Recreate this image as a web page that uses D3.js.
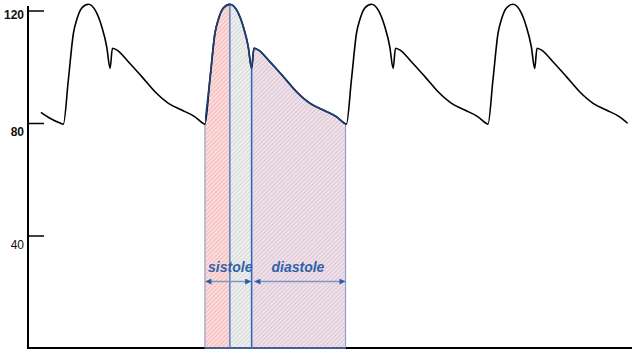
<!DOCTYPE html>
<html>
<head>
<meta charset="utf-8">
<script src="https://cdn.jsdelivr.net/npm/d3@7"></script>
<style>
  html, body { margin: 0; padding: 0; background: #fff; }
  svg { display: block; }
</style>
</head>
<body>
<svg id="chart" width="640" height="356"></svg>
<script>
// ---- Data (time in seconds, pressure in mmHg) ----
const timeSec = [
  0.073, 0.124, 0.181,
  0.200, 0.228, 0.257, 0.275, 0.303, 0.341, 0.379, 0.417, 0.445, 0.464, 0.477, 0.501, 0.567, 0.643, 0.718, 0.794, 0.869, 0.944, 0.989,
  1.000, 1.028, 1.057, 1.075, 1.103, 1.141, 1.179, 1.217, 1.245, 1.264, 1.277, 1.301, 1.367, 1.443, 1.518, 1.594, 1.669, 1.744, 1.789,
  1.800, 1.828, 1.857, 1.875, 1.903, 1.941, 1.979, 2.017, 2.045, 2.064, 2.077, 2.101, 2.167, 2.243, 2.318, 2.394, 2.469, 2.544, 2.589,
  2.600, 2.628, 2.657, 2.675, 2.703, 2.741, 2.779, 2.817, 2.845, 2.864, 2.877, 2.901, 2.967, 3.043, 3.118, 3.194, 3.269, 3.344, 3.389
];
const pressureMmHg = [
  83.8, 81.7, 80.0,
  79.6, 95.3, 112.0, 116.6, 120.8, 122.2, 120.2, 114.2, 107.1, 99.4, 106.6, 106.0, 101.8, 96.5, 91.1, 87.0, 84.6, 82.2, 79.9,
  79.6, 95.3, 112.0, 116.6, 120.8, 122.2, 120.2, 114.2, 107.1, 99.4, 106.6, 106.0, 101.8, 96.5, 91.1, 87.0, 84.6, 82.2, 79.9,
  79.6, 95.3, 112.0, 116.6, 120.8, 122.2, 120.2, 114.2, 107.1, 99.4, 106.6, 106.0, 101.8, 96.5, 91.1, 87.0, 84.6, 82.2, 79.9,
  79.6, 95.3, 112.0, 116.6, 120.8, 122.2, 120.2, 114.2, 107.1, 99.4, 106.6, 106.0, 101.8, 96.5, 91.1, 87.0, 84.6, 82.2, 79.9
];
const yTickValues = [40, 80, 120];
// highlighted beat: start (foot), systolic peak, dicrotic notch, end (next foot)
const beatMarks = [1.000, 1.141, 1.264, 1.800];
const phaseLabels = ["sistole", "diastole"];
const phaseStart = [1.000, 1.277];
const phaseEnd = [1.264, 1.797];

const data = timeSec.map((t, i) => ({ t, p: pressureMmHg[i] }));

const svg = d3.select("#chart");
const x = d3.scaleLinear().domain([0, 3.414]).range([28, 632]);
const y = d3.scaleLinear().domain([0, 120]).range([348, 10.5]);

// ---- Patterns ----
const defs = svg.append("defs");
function hatch(id, bg, fg) {
  const p = defs.append("pattern")
    .attr("id", id).attr("patternUnits", "userSpaceOnUse")
    .attr("width", 3).attr("height", 3)
    .attr("patternTransform", "rotate(45)");
  p.append("rect").attr("width", 3).attr("height", 3).attr("fill", bg);
  p.append("line").attr("x1", 0.5).attr("y1", 0).attr("x2", 0.5).attr("y2", 3)
    .attr("stroke", fg).attr("stroke-width", 1);
}
hatch("hPink", "#fcdcdc", "#f3b9b9");
hatch("hGray", "#eeeeee", "#d9d9d9");
hatch("hMauve", "#efe0e9", "#dcc7d4");

const fills = ["url(#hPink)", "url(#hGray)", "url(#hMauve)"];
for (let i = 0; i < 3; i++) {
  defs.append("clipPath").attr("id", "seg" + i)
    .append("rect")
    .attr("x", x(beatMarks[i])).attr("y", 0)
    .attr("width", x(beatMarks[i + 1]) - x(beatMarks[i]))
    .attr("height", y(0));
}
defs.append("clipPath").attr("id", "beatClip")
  .append("rect")
  .attr("x", x(beatMarks[0])).attr("y", 0)
  .attr("width", x(beatMarks[3]) - x(beatMarks[0]) - 1).attr("height", 356);

const beatData = data.filter(d => d.t >= beatMarks[0] - 1e-9 && d.t <= beatMarks[3] + 1e-9);
const area = d3.area().x(d => x(d.t)).y0(y(0)).y1(d => y(d.p)).curve(d3.curveMonotoneX);
const line = d3.line().x(d => x(d.t)).y(d => y(d.p)).curve(d3.curveMonotoneX);

for (let i = 0; i < 3; i++) {
  svg.append("path").datum(beatData)
    .attr("d", area).attr("fill", fills[i])
    .attr("clip-path", "url(#seg" + i + ")");
}

// interpolate pressure at a time from the data
function pAt(t) {
  const i = d3.bisector(d => d.t).left(data, t);
  if (i <= 0) return data[0].p;
  if (i >= data.length) return data[data.length - 1].p;
  const a = data[i - 1], b = data[i];
  return a.p + (b.p - a.p) * (t - a.t) / (b.t - a.t);
}

// ---- Axes ----
svg.append("line")
  .attr("x1", x.range()[0]).attr("x2", x.range()[1])
  .attr("y1", y(0)).attr("y2", y(0))
  .attr("stroke", "#000").attr("stroke-width", 2);

const yAxis = svg.append("g").attr("transform", `translate(${x.range()[0]},0)`)
  .call(d3.axisRight(y).tickValues(yTickValues).tickSize(16).tickSizeOuter(0));
yAxis.select(".domain").remove();
yAxis.selectAll(".tick line").attr("stroke", "#000").attr("stroke-width", 1.5);
yAxis.selectAll(".tick text")
  .attr("x", -4).attr("dy", "1.05em").attr("text-anchor", "end")
  .attr("fill", "#111")
  .style("font-family", "'Liberation Sans', Arial, sans-serif")
  .style("font-size", "12px")
  .style("font-weight", d => d === 40 ? "normal" : "bold");
yAxis.selectAll(".tick").filter(d => d === 120).select("text").attr("dy", "0.7em");
svg.append("line")
  .attr("x1", x.range()[0]).attr("x2", x.range()[0])
  .attr("y1", 6).attr("y2", y(0) + 1)
  .attr("stroke", "#000").attr("stroke-width", 2);

// ---- Beat boundary lines ----
const edgeColors = ["#7894c6", "#4572b5", "#2f6cc0", "#7f9ed0"];
const edgeWidths = [1, 1.3, 1.6, 1];
beatMarks.forEach((t, i) => {
  svg.append("line")
    .attr("x1", x(t) - (i === 3 ? 1 : 0)).attr("x2", x(t) - (i === 3 ? 1 : 0))
    .attr("y1", y(pAt(t))).attr("y2", y(0))
    .attr("stroke", edgeColors[i]).attr("stroke-width", edgeWidths[i]);
});
svg.append("line")
  .attr("x1", x(beatMarks[0])).attr("x2", x(beatMarks[3]) - 1)
  .attr("y1", y(0)).attr("y2", y(0))
  .attr("stroke", "#5b80c0").attr("stroke-width", 1.5);

// ---- Pressure curve ----
svg.append("path").datum(data)
  .attr("d", line).attr("fill", "none")
  .attr("stroke", "#000").attr("stroke-width", 1.6)
  .attr("stroke-linejoin", "round");
svg.append("path").datum(beatData)
  .attr("d", line).attr("fill", "none")
  .attr("stroke", "#1d3f78").attr("stroke-width", 1.7)
  .attr("clip-path", "url(#beatClip)");

// ---- Phase arrows & labels ----
defs.append("marker").attr("id", "arrEnd")
  .attr("viewBox", "0 0 10 10").attr("refX", 10).attr("refY", 5)
  .attr("markerWidth", 9).attr("markerHeight", 6).attr("markerUnits", "userSpaceOnUse")
  .attr("orient", "auto")
  .append("path").attr("d", "M0,0 L10,5 L0,10 Z").attr("fill", "#2c5fa6");
defs.append("marker").attr("id", "arrStart")
  .attr("viewBox", "0 0 10 10").attr("refX", 0).attr("refY", 5)
  .attr("markerWidth", 9).attr("markerHeight", 6).attr("markerUnits", "userSpaceOnUse")
  .attr("orient", "auto")
  .append("path").attr("d", "M10,0 L0,5 L10,10 Z").attr("fill", "#2c5fa6");

const arrowY = 281.5;
phaseLabels.forEach((lab, i) => {
  svg.append("line")
    .attr("x1", x(phaseStart[i]) + 0.5).attr("x2", x(phaseEnd[i]) - 0.5)
    .attr("y1", arrowY).attr("y2", arrowY)
    .attr("stroke", "#7d98c2").attr("stroke-width", 1.3)
    .attr("marker-start", "url(#arrStart)").attr("marker-end", "url(#arrEnd)");
  svg.append("text")
    .attr("x", (x(phaseStart[i]) + x(phaseEnd[i])) / 2 + (i === 0 ? 2 : -2))
    .attr("y", 271.5)
    .attr("text-anchor", "middle")
    .attr("fill", "#2d62aa")
    .style("font-family", "'Liberation Sans', Arial, sans-serif")
    .style("font-size", "14px")
    .style("font-weight", "bold")
    .style("font-style", "italic")
    .text(lab);
});
</script>
</body>
</html>
